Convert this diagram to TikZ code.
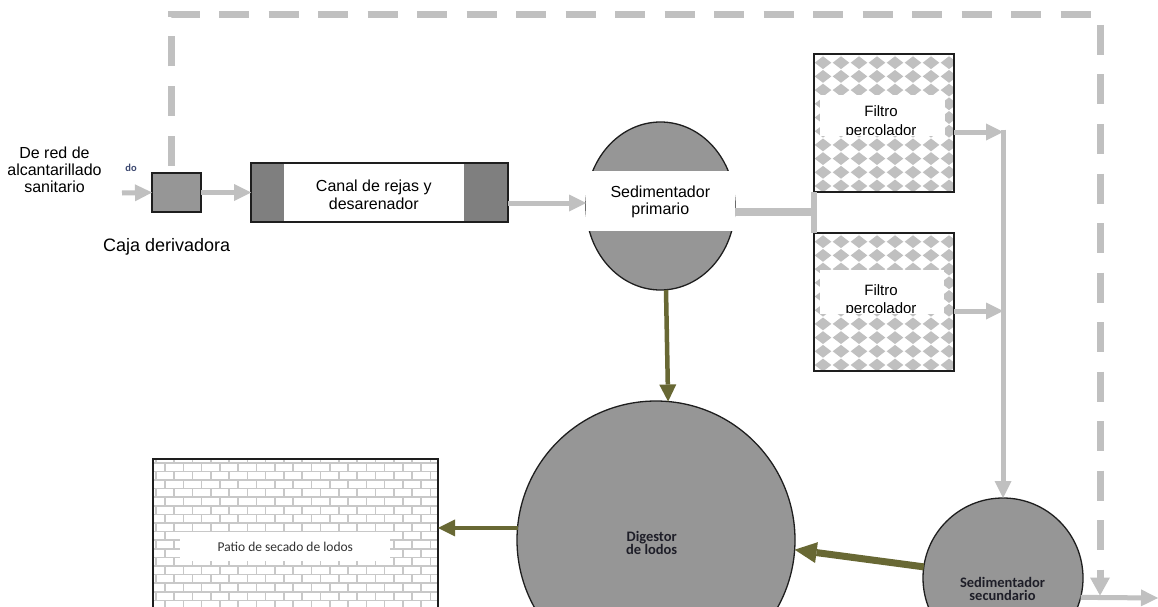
\documentclass[tikz,border=0pt]{standalone}
\usepackage{fontspec}
\setmainfont{Liberation Sans}
\newfontfamily\calfont{Carlito}
\usetikzlibrary{arrows.meta,shapes.geometric}

\definecolor{pipegray}{RGB}{192,192,192}
\definecolor{tankgray}{RGB}{150,150,150}
\definecolor{sidegray}{RGB}{127,127,127}
\definecolor{sludge}{RGB}{104,104,52}
\definecolor{outline}{RGB}{30,30,30}
\definecolor{tilegray}{RGB}{192,192,192}
\definecolor{mortar}{RGB}{200,200,200}
\definecolor{tagblue}{RGB}{60,72,112}
\definecolor{darktext}{RGB}{30,30,40}

\begin{document}
\begin{tikzpicture}[x=1pt,y=-1pt,
  every node/.style={inner sep=0pt, outer sep=0pt},
  unit/.style={draw=outline, line width=1.3pt},
  tank/.style={unit, fill=tankgray},
  flow/.style={draw=pipegray, line width=5pt, -{Triangle[length=17pt,width=17pt,line width=0pt]}},
  pipe/.style={draw=pipegray, line width=8pt},
  bypass/.style={draw=pipegray, line width=7pt, dash pattern=on 30pt off 19.5pt, dash phase=42pt,
    -{Triangle[length=18pt,width=20pt,line width=0pt]}},
  sludgeflow/.style={draw=sludge, line width=4.5pt, -{Triangle[length=17pt,width=17pt,line width=0pt]}},
  heavysludge/.style={draw=sludge, line width=7pt, -{Triangle[length=22pt,width=21pt,line width=0pt]}},
  mortarline/.style={draw=mortar, line width=1.6pt},
  lbl/.style={anchor=base, font=\fontsize{16}{18}\selectfont},
  smalllbl/.style={anchor=base, font=\fontsize{15}{17}\selectfont},
  boldlbl/.style={anchor=base, text=darktext, font=\calfont\bfseries\fontsize{14.5}{16}\selectfont},
]
\useasboundingbox (0,0) rectangle (1158,607);
\fill[white] (0,0) rectangle (1158,607);

% ---- units ----
\node[tank, minimum width=49pt, minimum height=39pt] (caja) at (176.5,192.5) {};

\node[unit, fill=sidegray, minimum width=257pt, minimum height=59pt] (canal) at (379.5,192.5) {};
\fill[white] (284,163.7) rectangle (464,221.3);

\node[tank, ellipse, minimum width=149pt, minimum height=168pt] (sedI) at (660.5,206) {};
\fill[white] (586,171) rectangle (735,231);

\node[fill=white, minimum width=140pt, minimum height=138pt] (f1) at (884,123) {};
\node[fill=white, minimum width=140pt, minimum height=138pt] (f2) at (884,302) {};
\foreach \f in {f1,f2} {
  \begin{scope}[shift={(\f.north west)}]
    \clip (0,0) rectangle (140,138);
    \foreach \j in {-1,...,10} \foreach \i in {0,...,7}
      \fill[tilegray] ({9+18*\i},{8.7+13.7*\j}) ++(-8.3,0) -- ++(8.3,6.4) -- ++(8.3,-6.4) -- ++(-8.3,-6.4) -- cycle;
  \end{scope}
}
\fill[white] (820,95) rectangle (945,136);
\fill[white] (820,270) rectangle (944,314);
\foreach \f in {f1,f2} \draw[unit] (\f.north west) rectangle (\f.south east);

\node[tank, circle, minimum size=278pt] (dig) at (656,540) {};
\node[tank, circle, minimum size=160pt] (sedII) at (1003,578) {};

\node[fill=white, minimum width=285pt, minimum height=170pt, anchor=north west] (patio) at (153,459) {};
\begin{scope}
  \clip (patio.north west) rectangle (patio.south east);
  \foreach \r in {-1,...,17} {
    \pgfmathsetmacro{\yy}{462.7+8.6*\r}
    \pgfmathsetmacro{\off}{mod(\r+2,2)*9.15}
    \draw[mortarline] (153,\yy) -- (438,\yy);
    \foreach \i in {0,...,17} \draw[mortarline] ({146.7+\off+18.3*\i},\yy) -- ++(0,8.6);
  }
\end{scope}
\fill[white] (180,532) rectangle (390,561);
\draw[unit] (patio.south west) -- (patio.north west) -- (patio.north east) -- (patio.south east);

% ---- liquid line ----
\coordinate (inlet) at (122,193);
\draw[flow] (inlet) -- (caja.west);
\draw[flow] (caja.east) -- (canal.west);
\draw[flow] ([yshift=-10.5pt]canal.east) -- ([yshift=-10.5pt]canal.east -| sedI.west);

\coordinate (tee) at (814.5,212);
\draw[pipe] (sedI.east |- tee) -- (tee);
\draw[draw=pipegray, line width=5.5pt] (f1.south west) -- (f2.north west);

\coordinate (c1) at (1003,132);
\coordinate (c2) at (1003,311);
\draw[flow] (f1.east |- c1) -- (c1);
\draw[flow] (f2.east |- c2) -- (c2);
\draw[flow] ([yshift=2.5pt]c1) -- (sedII.north);

\coordinate (outlet) at (1158,598);
\draw[flow] (sedII.-14.5) -- (outlet);

% ---- bypass ----
\coordinate (bypassend) at (1100,595.5);
\draw[bypass] ([xshift=-5pt]caja.north) -- (171.5,15) -- (1100,15) -- (bypassend);

% ---- sludge line ----
\draw[sludgeflow] ([xshift=5.5pt]sedI.south) -- (dig.85.9);
\draw[sludgeflow] (dig.175) -- (dig.175 -| patio.east);
\draw[heavysludge] (sedII.172.8) -- (dig.-4.1);

% ---- labels ----
\node[lbl] (src1) at (54.5,158) {De red de};
\node[lbl] (src2) at (54.5,175) {alcantarillado};
\node[lbl] (src3) at (54.5,192) {sanitario};
\node[anchor=base, text=tagblue, font=\calfont\bfseries\fontsize{10.5}{12}\selectfont] (tag) at (131,171) {do};
\node[anchor=base, font=\fontsize{18}{20}\selectfont] (cajat) at (166.7,251) {Caja derivadora};

\node[lbl] (canal1) at (373.8,191.7) {Canal de rejas y};
\node[lbl] (canal2) at (373.8,209) {desarenador};

\node[lbl] (sedI1) at (660.3,197.7) {Sedimentador};
\node[lbl] (sedI2) at (660.3,214.3) {primario};

\begin{scope}
  \clip (820,95) rectangle (945,134.6);
  \node[smalllbl] (f1a) at (881,117) {Filtro};
  \node[smalllbl] (f1b) at (881,135.7) {percolador};
\end{scope}
\begin{scope}
  \clip (820,270) rectangle (944,312.2);
  \node[smalllbl] (f2a) at (881,295) {Filtro};
  \node[smalllbl] (f2b) at (881,313.3) {percolador};
\end{scope}

\node[anchor=base, text={rgb,255:red,50;green,50;blue,50}, font=\calfont\fontsize{13.5}{15}\selectfont] (patiot) at (285.3,551.7) {Patio de secado de lodos};

\node[boldlbl] (dig1) at (651.7,541) {Digestor};
\node[boldlbl] (dig2) at (651.7,554) {de lodos};

\node[boldlbl] (sedII1) at (1002.5,587.3) {Sedimentador};
\node[boldlbl] (sedII2) at (1002.5,600.7) {secundario};
\end{tikzpicture}
\end{document}
